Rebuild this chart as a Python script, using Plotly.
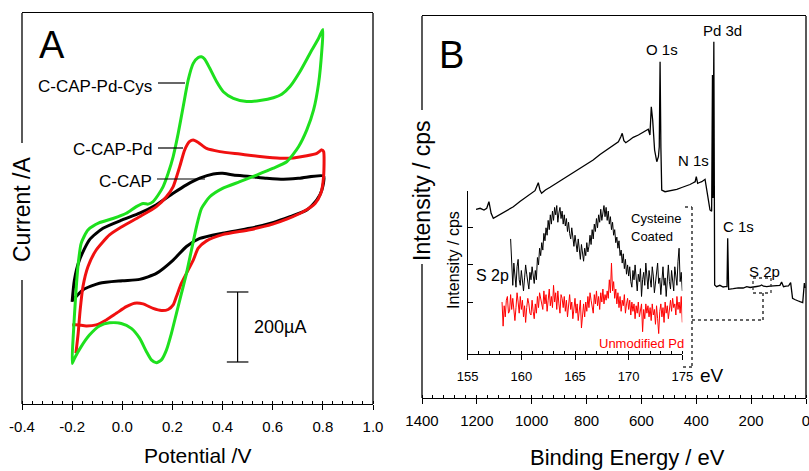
import plotly.graph_objects as go

W, H = 809, 471

# ---------------- Panel A : cyclic voltammograms (potential / V, current / uA, arbitrary zero)
ccap_v = [-0.200, -0.191, -0.171, -0.131, -0.077, 0.000, 0.069, 0.136, 0.203, 0.256, 0.309, 0.363,
          0.400, 0.443, 0.509, 0.576, 0.643, 0.709, 0.803, 0.796, 0.776, 0.736, 0.669, 0.600,
          0.509, 0.400, 0.309, 0.256, 0.203, 0.136, 0.069, 0.000, -0.091, -0.157, -0.197]
ccap_i = [292, 354, 411, 469, 502, 526, 545, 569, 602, 626, 645, 657,
          659, 654, 650, 645, 642, 645, 651, 611, 583, 554, 535, 518,
          502, 488, 473, 450, 411, 373, 356, 352, 345, 326, 297]

ccappd_v = [-0.185, -0.176, -0.168, -0.157, -0.137, -0.104, -0.051, 0.000, 0.069, 0.136,
            0.176, 0.203, 0.229, 0.249, 0.269, 0.283, 0.303, 0.336, 0.389, 0.469,
            0.549, 0.629, 0.683, 0.736, 0.776, 0.796, 0.803, 0.803, 0.792, 0.769,
            0.723, 0.656, 0.600, 0.509, 0.400, 0.336, 0.303, 0.283, 0.263, 0.236,
            0.216, 0.203, 0.183, 0.156, 0.123, 0.083, 0.049, 0.016, -0.024, -0.064,
            -0.104, -0.144, -0.177, -0.200]
ccappd_i = [145, 202, 269, 335, 392, 440, 483, 507, 535, 564,
            592, 621, 678, 726, 750, 754, 747, 730, 721, 714,
            707, 702, 703, 709, 716, 726, 721, 650, 602, 573,
            550, 528, 514, 498, 484, 466, 445, 411, 383, 345,
            307, 283, 270, 267, 273, 286, 288, 278, 259, 240,
            226, 223, 226, 226]

cys_v = [-0.200, -0.195, -0.187, -0.177, -0.164, -0.137, -0.091, -0.037, 0.016, 0.056,
         0.083, 0.103, 0.123, 0.143, 0.163, 0.183, 0.203, 0.223, 0.243, 0.263,
         0.283, 0.303, 0.316, 0.329, 0.349, 0.376, 0.403, 0.443, 0.496, 0.549,
         0.603, 0.636, 0.669, 0.709, 0.749, 0.783, 0.800, 0.796, 0.783, 0.763,
         0.736, 0.703, 0.656, 0.600, 0.536, 0.469, 0.400, 0.349, 0.316, 0.296,
         0.276, 0.256, 0.236, 0.216, 0.196, 0.176, 0.156, 0.136, 0.116, 0.096,
         0.069, 0.036, -0.004, -0.051, -0.091, -0.131, -0.164, -0.191, -0.200]
cys_i = [116, 202, 297, 392, 459, 497, 518, 530, 545, 564,
         573, 571, 578, 597, 621, 659, 707, 773, 850, 926,
         973, 990, 992, 985, 959, 921, 892, 873, 864, 867,
         875, 885, 907, 950, 1002, 1045, 1070, 1011, 916, 840,
         783, 735, 692, 673, 654, 635, 616, 592, 559, 507,
         440, 373, 316, 259, 202, 154, 126, 118, 126, 150,
         188, 216, 230, 232, 223, 197, 164, 130, 116]

a_ticks = [-0.4, -0.2, 0.0, 0.2, 0.4, 0.6, 0.8, 1.0]
a_ticktext = ["-0.4", "-0.2", "0.0", "0.2", "0.4", "0.6", "0.8", "1.0"]
scale_bar_ua = 200

# ---------------- Panel B : XPS survey (binding energy / eV, intensity arbitrary)
survey_be = [1203, 1188, 1174, 1164, 1156, 1148, 1140, 1122, 1104, 1085,
             1067, 1043, 1018, 998, 988, 976, 970, 964, 950, 933,
             915, 897, 866, 836, 806, 776, 751, 727, 705, 684,
             675, 670, 664, 657, 643, 630, 611, 593, 575, 569,
             564, 559, 552, 544, 538, 535, 532, 529, 526, 514,
             493, 471, 453, 435, 423, 411, 404, 400, 395, 388,
             380, 368, 356, 350, 344, 341, 339, 336, 333, 326,
             314, 302, 295, 288, 285.5, 282, 265, 247, 229, 216,
             204, 192, 180, 168, 162, 155, 143, 131, 119, 107,
             95, 89, 82, 73, 64, 56, 49, 41, 34, 28,
             22, 12, 6, 3]
survey_int = [188.7, 189.7, 188.0, 189.7, 196.3, 184.7, 179.7, 182.5, 184.7, 188.5,
              191.3, 196.5, 201.3, 205.0, 207.3, 215.3, 208.0, 204.7, 208.0, 210.7,
              213.8, 216.3, 222.0, 227.3, 232.5, 238.0, 243.5, 248.0, 252.5, 256.3,
              261.3, 264.7, 257.3, 255.3, 258.0, 260.7, 263.0, 265.7, 268.7, 263.0,
              291.3, 278.0, 248.0, 236.3, 241.3, 251.3, 336.3, 250.0, 208.0, 206.3,
              207.5, 208.7, 210.5, 212.0, 213.5, 215.3, 216.3, 221.3, 214.7, 215.5,
              216.3, 218.7, 198.0, 188.0, 186.7, 323.0, 200.0, 356.3, 113.0, 111.3,
              112.7, 111.0, 111.3, 111.3, 159.7, 108.7, 109.3, 110.2, 110.0, 111.3,
              110.5, 110.7, 111.5, 112.0, 113.0, 111.8, 111.3, 111.8, 112.0, 112.3,
              112.7, 116.0, 111.3, 111.8, 112.0, 115.3, 99.7, 98.5, 98.0, 97.0,
              96.3, 95.3, 115.0, 110.0]
b_ticks = [1400, 1200, 1000, 800, 600, 400, 200, 0]
b_ticktext = ["1400", "1200", "1000", "800", "600", "400", "200", "0"]

# ---------------- Inset : S 2p high resolution (0.1 eV sampling)
s2p_step = 0.1
cys_start = 159.0
s2p_cys = [2.70, 1.80, 1.45, 2.05, 1.70, 1.40, 1.95, 2.15, 1.60, 1.45,
           1.85, 1.55, 1.30, 1.65, 2.00, 1.75, 1.45, 1.35, 1.80, 1.60,
           1.95, 1.70, 1.50, 1.85, 1.60, 2.20, 2.00, 2.45, 2.25, 2.60,
           2.40, 2.85, 2.65, 3.00, 2.80, 3.20, 2.95, 3.35, 3.10, 3.45,
           3.20, 3.55, 3.35, 3.60, 3.15, 3.40, 3.55, 3.25, 3.45, 3.10,
           3.35, 3.05, 3.25, 2.90, 3.15, 2.85, 2.70, 3.00, 2.75, 2.50,
           2.80, 2.55, 2.35, 2.70, 2.45, 2.15, 2.55, 2.30, 2.10, 2.45,
           2.25, 2.60, 2.35, 2.50, 2.80, 2.55, 2.95, 2.70, 3.10, 2.90,
           3.25, 3.00, 3.35, 3.15, 3.50, 3.20, 3.40, 3.60, 3.30, 3.55,
           3.20, 3.45, 3.10, 3.30, 2.95, 3.15, 2.80, 2.95, 2.60, 2.75,
           2.45, 2.65, 2.25, 2.40, 2.05, 2.30, 1.90, 2.15, 1.75, 2.00,
           1.70, 1.95, 1.55, 1.40, 1.85, 1.60, 2.00, 1.50, 1.30, 1.75,
           1.55, 1.90, 1.15, 1.60, 1.80, 1.45, 2.05, 1.70, 1.35, 1.85,
           1.60, 1.40, 1.95, 1.70, 1.25, 1.55, 1.90, 2.05, 1.50, 1.65,
           1.20, 1.75, 1.95, 1.45, 1.65, 1.15, 1.80, 2.00, 1.55, 1.35,
           1.85, 1.60, 1.30, 1.95, 1.70, 1.45, 2.10, 2.45, 1.55, 1.80,
           1.30]
pd_start = 158.2
s2p_pd = [1.00, 0.35, 0.90, 0.60, 1.05, 1.15, 0.70, 0.75,
          1.20, 0.80, 1.10, 0.65, 0.50, 0.85, 1.25, 1.00, 0.70, 1.15,
          0.80, 1.05, 0.60, 0.90, 0.45, 0.85, 1.10, 0.95, 0.70, 0.65,
          1.05, 0.75, 0.55, 0.95, 0.70, 1.15, 0.85, 1.25, 1.10, 0.90,
          0.80, 1.30, 0.95, 1.20, 0.75, 1.05, 1.35, 0.90, 1.15, 0.85,
          1.45, 1.00, 1.25, 0.80, 1.30, 0.95, 0.70, 1.20, 1.10, 0.85,
          1.15, 0.75, 1.05, 0.60, 0.95, 1.20, 0.80, 1.00, 0.55, 0.90,
          1.10, 0.70, 0.95, 0.50, 0.85, 1.05, 0.30, 0.75, 0.95, 0.60,
          1.00, 0.75, 1.15, 0.85, 1.25, 1.05, 0.90, 0.70, 1.20, 0.95,
          1.30, 0.90, 1.15, 0.80, 1.25, 1.00, 1.35, 0.95, 1.20, 1.05,
          1.30, 1.10, 1.60, 1.25, 2.05, 1.30, 1.55, 1.10, 1.35, 0.95,
          1.25, 0.85, 1.15, 0.75, 1.05, 0.90, 1.20, 0.70, 0.95, 1.10,
          0.80, 1.05, 0.65, 1.00, 0.75, 0.95, 0.55, 0.90, 0.70, 1.00,
          0.60, 0.85, 0.95, 0.20, 0.80, 0.55, 0.95, 0.70, 0.90, 0.60,
          0.85, 0.50, 0.95, 0.65, 0.80, 0.40, 0.90, 0.55, 0.15, 0.75,
          0.95, 0.60, 0.85, 0.45, 1.00, 0.70, 0.90, 0.55, 0.80, 1.05,
          0.75, 1.10, 0.85, 0.95, 0.65, 1.15, 0.80, 1.00, 0.70, 1.15,
          0.45]
inset_ticks = [155, 160, 165, 170, 175]
inset_ticktext = ["155", "160", "165", "170", "175"]

cys_be = [round(cys_start + k * s2p_step, 2) for k in range(len(s2p_cys))]
pd_be = [round(pd_start + k * s2p_step, 2) for k in range(len(s2p_pd))]

# ---------------- figure
SANS = "Liberation Sans, Arial, sans-serif"
GREEN = "#1ee01e"
RED = "#f01010"


def px(x):
    return x / W


def py(y):
    return 1 - y / H


fig = go.Figure()
fig.add_trace(go.Scatter(x=ccap_v, y=ccap_i, mode="lines", line=dict(color="black", width=3, shape="spline", smoothing=0.6), xaxis="x", yaxis="y"))
fig.add_trace(go.Scatter(x=ccappd_v, y=ccappd_i, mode="lines", line=dict(color=RED, width=3, shape="spline", smoothing=0.6), xaxis="x", yaxis="y"))
fig.add_trace(go.Scatter(x=cys_v, y=cys_i, mode="lines", line=dict(color=GREEN, width=3, shape="spline", smoothing=0.6), xaxis="x", yaxis="y"))

fig.add_trace(go.Scatter(x=survey_be, y=survey_int, mode="lines", line=dict(color="black", width=1.3), xaxis="x2", yaxis="y2"))
fig.add_trace(go.Scatter(x=cys_be, y=s2p_cys, mode="lines", line=dict(color="black", width=1), xaxis="x3", yaxis="y3"))
fig.add_trace(go.Scatter(x=pd_be, y=s2p_pd, mode="lines", line=dict(color="#ff0000", width=1), xaxis="x3", yaxis="y3"))

tickfont = dict(family=SANS, size=15, color="black")
common_x = dict(showgrid=False, zeroline=False, showline=True, linecolor="black", linewidth=1.3,
                ticks="outside", ticklen=5, tickwidth=1.2, tickcolor="black", tickfont=tickfont,
                ticklabelstandoff=4, automargin=False, ticklabeloverflow="allow")

fig.update_layout(
    width=W, height=H, margin=dict(l=0, r=0, t=0, b=0, pad=0, autoexpand=False),
    paper_bgcolor="white", plot_bgcolor="rgba(0,0,0,0)",
    showlegend=False, hovermode=False,
    font=dict(family=SANS, color="black"),
    xaxis=dict(domain=[px(22), px(373)], range=[-0.4, 1.0], anchor="y", mirror=True,
               tickvals=a_ticks, ticktext=a_ticktext,
               minor=dict(dtick=0.04, tick0=-0.4, ticks="inside", ticklen=3, tickwidth=1, tickcolor="black"),
               **common_x),
    yaxis=dict(domain=[py(404), py(13)], range=[0, 1117], anchor="x", showgrid=False, zeroline=False,
               showline=False, showticklabels=False, ticks="", automargin=False),
    xaxis2=dict(domain=[px(422), px(806)], range=[1400, 0], anchor="y2", mirror=True,
                tickvals=b_ticks, ticktext=b_ticktext,
                minor=dict(dtick=40, tick0=0, ticks="inside", ticklen=3, tickwidth=1, tickcolor="black"),
                **common_x),
    yaxis2=dict(domain=[py(398), py(16)], range=[0, 382], anchor="x2", showgrid=False, zeroline=False,
                showline=False, showticklabels=False, ticks="", automargin=False),
    xaxis3=dict(domain=[px(467.7), px(682.3)], range=[155, 175], anchor="y3", mirror=False,
                tickvals=inset_ticks, ticktext=inset_ticktext,
                minor=dict(dtick=1, tick0=155, ticks="inside", ticklen=3, tickwidth=1, tickcolor="black"),
                showgrid=False, zeroline=False, showline=True, linecolor="black", linewidth=1.2,
                ticks="outside", ticklen=5, tickwidth=1.2, tickcolor="black", automargin=False,
                tickfont=dict(family=SANS, size=13, color="black"), ticklabelstandoff=5),
    yaxis3=dict(domain=[py(354), py(190.7)], range=[-0.40, 4.0], anchor="x3", showgrid=False, zeroline=False,
                showline=True, linecolor="black", linewidth=1.2, ticks="inside", ticklen=5, tickwidth=1.2,
                tickcolor="black", tickvals=[1, 2, 3, 4], showticklabels=False, automargin=False),
)

shapes = []


def seg(x0, y0, x1, y1, width=1.3, dash="solid", color="black"):
    shapes.append(dict(type="line", xref="paper", yref="paper", x0=px(x0), y0=py(y0), x1=px(x1), y1=py(y1),
                       line=dict(color=color, width=width, dash=dash)))


# frames (left spines broken around the titles)
seg(22, 13, 22, 143)
seg(22, 280, 22, 404)
seg(373, 13, 373, 404)
seg(422, 16, 422, 110)
seg(422, 264, 422, 398)
seg(806, 16, 806, 398)
# label leader lines in A
seg(158, 83, 185, 83, width=1.2)
seg(158, 148, 183, 148, width=1.2)
seg(157, 179, 205, 179, width=1.2)
# dotted connectors in B
DOT = "#333333"
seg(685, 207, 692, 207, 1.5, "dot", DOT)
seg(692, 207, 692, 367, 1.5, "dot", DOT)
seg(683, 367, 692, 367, 1.5, "dot", DOT)
seg(692, 320, 763, 320, 1.5, "dot", DOT)
seg(763, 320, 763, 293, 1.5, "dot", DOT)
shapes.append(dict(type="rect", xref="paper", yref="paper", x0=px(753), y0=py(293), x1=px(771), y1=py(278),
                   line=dict(color=DOT, width=1.3, dash="dot")))
# 200 uA scale bar in data units of panel A
sb_x, sb_lo = 0.46, 120
shapes.append(dict(type="line", xref="x", yref="y", x0=sb_x, x1=sb_x, y0=sb_lo, y1=sb_lo + scale_bar_ua,
                   line=dict(color="black", width=1.2)))
for yy in (sb_lo, sb_lo + scale_bar_ua):
    shapes.append(dict(type="line", xref="x", yref="y", x0=sb_x - 0.043, x1=sb_x + 0.043, y0=yy, y1=yy,
                       line=dict(color="black", width=1.2)))
fig.update_layout(shapes=shapes)

ann = []


def text(t, x, y, size, color="black", xanchor="center", angle=0):
    ann.append(dict(text=t, x=px(x), y=py(y), xref="paper", yref="paper", showarrow=False,
                    xanchor=xanchor, yanchor="middle", textangle=angle, borderpad=0,
                    font=dict(family=SANS, size=size, color=color)))


text("A", 52, 45, 38)
text("B", 452, 55, 38)
text("C-CAP-Pd-Cys", 153, 87, 17, xanchor="right")
text("C-CAP-Pd", 153, 150, 17, xanchor="right")
text("C-CAP", 153, 181, 17, xanchor="right")
text(f"{scale_bar_ua}µA", 253, 327, 18, xanchor="left")
text("Current /A", 22, 210, 23, angle=-90)
text("Potential /V", 197, 455, 21)
text("Intensity / cps", 422, 190, 23, angle=-90)
text("Binding Energy / eV", 627, 457, 22)
text("O 1s", 662, 50, 15)
text("Pd 3d", 722, 31, 15)
text("N 1s", 693, 161, 15)
text("C 1s", 738, 226, 15)
text("S 2p", 764, 271, 15)
text("Cysteine", 630, 218, 13, xanchor="left")
text("Coated", 630, 236, 13, xanchor="left")
text("Unmodified Pd", 685, 343, 13, color="#ff0000", xanchor="right")
text("S 2p", 492, 275, 16)
text("eV", 712, 375, 19)
text("Intensity / cps", 453, 260, 16, angle=-90)
fig.update_layout(annotations=ann)

fig.write_html("out.html")
